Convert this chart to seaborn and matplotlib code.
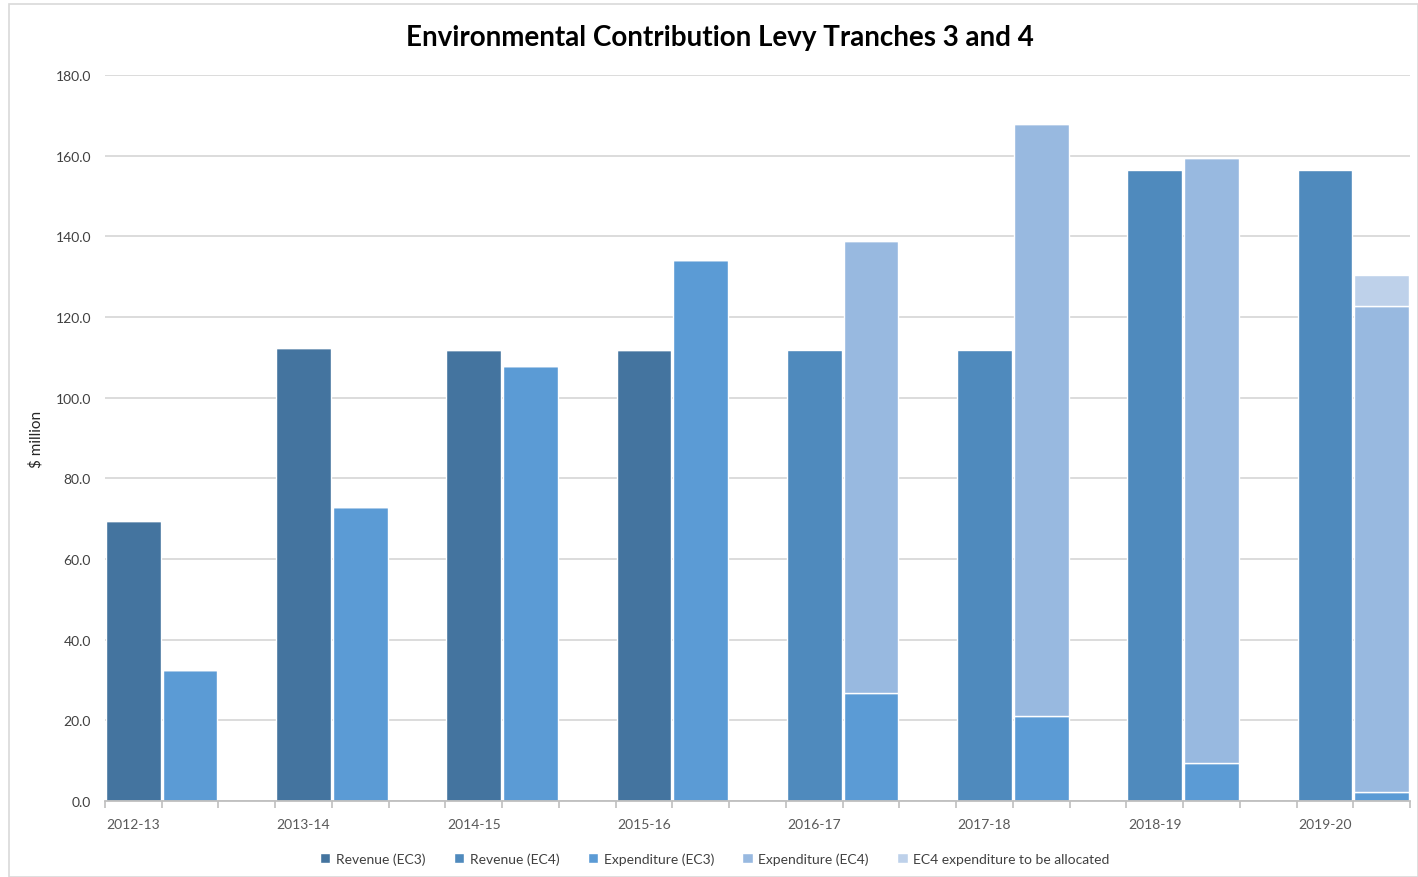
import numpy as np
import matplotlib
matplotlib.use("Agg")
import matplotlib.pyplot as plt
from matplotlib.patches import Rectangle
import seaborn as sns

# ---- data ($ million) ----
years = ['2012-13', '2013-14', '2014-15', '2015-16', '2016-17', '2017-18', '2018-19', '2019-20']
rev_ec3 = [69.3, 112.3, 111.9, 111.9, 0, 0, 0, 0]
rev_ec4 = [0, 0, 0, 0, 111.7, 111.8, 156.5, 156.5]
exp_ec3 = [32.6, 72.9, 107.9, 134.2, 26.9, 21.1, 9.3, 2.2]
exp_ec4 = [0, 0, 0, 0, 112.0, 146.8, 150.1, 120.5]
ec4_to_allocate = [0, 0, 0, 0, 0, 0, 0, 7.7]

series_names = ['Revenue (EC3)', 'Revenue (EC4)', 'Expenditure (EC3)',
                'Expenditure (EC4)', 'EC4 expenditure to be allocated']
colors = ['#44749F', '#4F8ABD', '#5B9BD5', '#98B9E0', '#BED1EA']

sns.set_theme(style="white")
plt.rcParams['font.family'] = ['Lato', 'DejaVu Sans']

fig = plt.figure(figsize=(14.18, 8.78), dpi=100)
ax = fig.add_axes([105 / 1418, 1 - 802 / 878, 1305 / 1418, 726 / 878])

# three slots per year: revenue, expenditure, empty
n = len(years)
rev_x = np.arange(n) * 3
exp_x = rev_x + 1
w = 0.965

bars = []
bars.append(ax.bar(rev_x, rev_ec3, width=w, color=colors[0], zorder=3))
bars.append(ax.bar(rev_x, rev_ec4, width=w, bottom=rev_ec3, color=colors[1], zorder=3))
bars.append(ax.bar(exp_x, exp_ec3, width=w, color=colors[2], zorder=3))
bars.append(ax.bar(exp_x, exp_ec4, width=w, bottom=exp_ec3, color=colors[3], zorder=3))
base = np.array(exp_ec3) + np.array(exp_ec4)
bars.append(ax.bar(exp_x, ec4_to_allocate, width=w, bottom=base, color=colors[4], zorder=3))

n_slots = 3 * n - 1
ax.set_xlim(-0.5, n_slots - 0.5)
ax.set_ylim(0, 180)
ax.set_yticks(np.arange(0, 181, 20))
ax.set_yticklabels([f'{v:.1f}' for v in np.arange(0, 181, 20)])
ax.yaxis.grid(True, color='#D9D9D9', linewidth=1.3, zorder=0)

ax.set_xticks(rev_x)
ax.set_xticklabels(years)
ax.set_xticks(np.arange(n_slots + 1) - 0.5, minor=True)
ax.tick_params(axis='x', which='major', length=0, pad=12, labelsize=10, labelcolor='#595959')
ax.tick_params(axis='x', which='minor', length=5, width=1.2, color='#BFBFBF', direction='out', bottom=True)
ax.tick_params(axis='y', length=0, pad=10, labelsize=10, labelcolor='#404040')

sns.despine(ax=ax, left=True)
ax.spines['bottom'].set_color('#BFBFBF')
ax.spines['bottom'].set_linewidth(1.3)
ax.spines['bottom'].set_zorder(4)

ax.set_ylabel('$ million', fontsize=11, color='#262626', labelpad=9)

fig.text(0.508, 1 - 38 / 878, 'Environmental Contribution Levy Tranches 3 and 4',
         ha='center', va='center', fontsize=20, fontweight='bold', color='black')

fig.legend(bars, series_names, loc='center', bbox_to_anchor=(0.504, 0.021), ncol=5,
           frameon=False, fontsize=10, handlelength=0.75, handleheight=0.75,
           columnspacing=2.05, handletextpad=0.4, labelcolor='#404040')

# outer chart border
fig.patches.append(Rectangle((9 / 1418, 0), 1 - 9 / 1418, 1 - 5 / 878,
                             transform=fig.transFigure, fill=False,
                             edgecolor='#D9D9D9', linewidth=1.2))

fig.savefig('out.png', dpi=100)
